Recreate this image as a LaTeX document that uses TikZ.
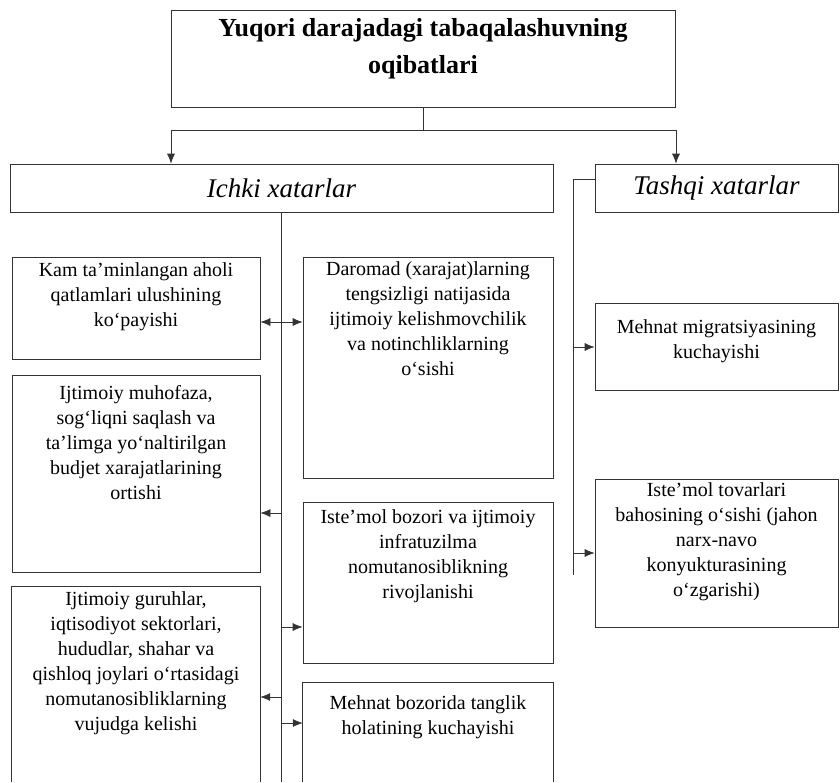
\documentclass[tikz,border=0pt]{standalone}
\usepackage{fontspec}
\setmainfont{Liberation Serif}
\usetikzlibrary{arrows.meta}
\begin{document}
\begin{tikzpicture}[x=1pt,y=-1pt,
  ln/.style={draw=black!80, line width=0.7pt},
  box/.style={ln, rectangle, inner sep=0pt},
  openbox/.style={rectangle, inner sep=0pt},
  txt/.style={anchor=north, inner sep=0pt, align=center, font=\fontsize{20}{25}\selectfont},
  head/.style={box, font=\fontsize{27}{32}\selectfont\itshape},
  arr/.style={ln, -{Latex[length=10pt,width=8pt]}},
  darr/.style={ln, {Latex[length=10pt,width=8pt]}-{Latex[length=10pt,width=8pt]}}
]
\useasboundingbox (0,0) rectangle (840,782);
% title
\node[box, minimum width=504, minimum height=97] (T) at (423,58.5) {};
\node[anchor=north, inner sep=0pt, align=center, font=\fontsize{26}{37}\selectfont\bfseries] (Tt) at (423,18) {Yuqori darajadagi tabaqalashuvning\\oqibatlari};
% headers
\node[head, minimum width=543, minimum height=48] (I) at (281.5,188) {Ichki xatarlar};
\node[head, minimum width=243, minimum height=48] (X) at (716.5,188) {Tashqi xatarlar};
% left column
\node[box, minimum width=248, minimum height=102] (L1) at (136,308) {};
\node[txt] (L1t) at (136,262) {Kam ta'minlangan aholi\\qatlamlari ulushining\\ko`payishi};
\node[box, minimum width=248, minimum height=197] (L2) at (136,473.5) {};
\node[txt] (L2t) at (136,385) {Ijtimoiy muhofaza,\\sog`liqni saqlash va\\ta'limga yo`naltirilgan\\budjet xarajatlarining\\ortishi};
\node[openbox, minimum width=248, minimum height=195] (L3) at (136,684.5) {};
\draw[ln] (L3.south west) -- (L3.north west) -- (L3.north east) -- (L3.south east);
\node[txt] (L3t) at (136,591) {Ijtimoiy guruhlar,\\iqtisodiyot sektorlari,\\hududlar, shahar va\\qishloq joylari o`rtasidagi\\nomutanosibliklarning\\vujudga kelishi};
% middle column
\node[box, minimum width=250, minimum height=221] (M1) at (428,367.5) {};
\node[txt] (M1t) at (428,261) {Daromad (xarajat)larning\\tengsizligi natijasida\\ijtimoiy kelishmovchilik\\va notinchliklarning\\o`sishi};
\node[box, minimum width=250, minimum height=161] (M2) at (428,582.5) {};
\node[txt] (M2t) at (428,509) {Iste'mol bozori va ijtimoiy\\infratuzilma\\nomutanosiblikning\\rivojlanishi};
\node[openbox, minimum width=250, minimum height=99] (M3) at (428,732.5) {};
\draw[ln] (M3.south west) -- (M3.north west) -- (M3.north east) -- (M3.south east);
\node[txt] (M3t) at (428,695) {Mehnat bozorida tanglik\\holatining kuchayishi};
% right column
\node[box, minimum width=243, minimum height=87] (R1) at (716.5,346.5) {};
\node[txt] (R1t) at (716.5,319) {Mehnat migratsiyasining\\kuchayishi};
\node[box, minimum width=243, minimum height=148] (R2) at (716.5,553) {};
\node[txt] (R2t) at (716.5,482) {Iste'mol tovarlari\\bahosining o`sishi (jahon\\narx-navo\\konyukturasining\\o`zgarishi)};
% top connectors
\coordinate (hub) at (423,130);
\coordinate (jL) at (171,130);
\coordinate (jR) at (676,130);
\draw[ln] (T.south) -- (hub);
\draw[ln] (jL) -- (jR);
\draw[arr] (jL) -- (jL |- I.north);
\draw[arr] (jR) -- (jR |- X.north);
% internal spine
\coordinate (spb) at (281.5,782);
\draw[ln] (I.south) -- (spb);
\coordinate (d1) at (281.5,322);
\draw[darr] (d1 -| L1.east) -- (d1 -| M1.west);
\coordinate (d2) at (281.5,513);
\draw[arr] (d2) -- (d2 -| L2.east);
\coordinate (d3) at (281.5,627);
\draw[arr] (d3) -- (d3 -| M2.west);
\coordinate (d4) at (281.5,697);
\draw[arr] (d4) -- (d4 -| L3.east);
\coordinate (d5) at (281.5,723);
\draw[arr] (d5) -- (d5 -| M3.west);
% external spine
\coordinate (tk) at (573,179);
\coordinate (tkb) at (573,575);
\draw[ln] (tk -| X.west) -- (tk) -- (tkb);
\coordinate (e1) at (573,347);
\draw[arr] (e1) -- (e1 -| R1.west);
\coordinate (e2) at (573,553);
\draw[arr] (e2) -- (e2 -| R2.west);
\end{tikzpicture}
\end{document}
